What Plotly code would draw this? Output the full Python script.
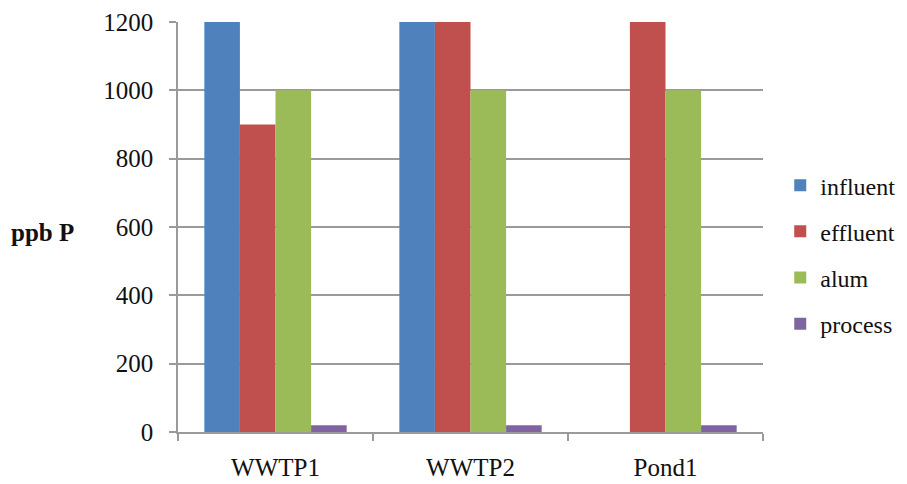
import plotly.graph_objects as go

categories = ["WWTP1", "WWTP2", "Pond1"]
influent = [1200, 1200, None]
effluent = [900, 1200, 1200]
alum = [1000, 1000, 1000]
process = [20, 20, 20]
y_ticks = [0, 200, 400, 600, 800, 1000, 1200]

series = [
    ("influent", influent, "#4F81BD"),
    ("effluent", effluent, "#C0504D"),
    ("alum", alum, "#9BBB59"),
    ("process", process, "#8064A2"),
]

fig = go.Figure()
for name, vals, col in series:
    fig.add_trace(go.Bar(x=categories, y=vals, name=name, marker_color=col,
                         marker_line_width=0, legendgroup=name))

font = "Liberation Serif, Times New Roman, serif"
# the page body adds an 8px offset; compensate so the plot area lands at 178..763 x 22..432
W, H = 899, 476
L, R, T, B = 170, 144, 14, 52
PW = W - L - R
fig.update_layout(
    width=W, height=H,
    margin=dict(l=L, r=R, t=T, b=B),
    paper_bgcolor="white", plot_bgcolor="white",
    barmode="group", bargap=0.27, bargroupgap=0,
    font=dict(family=font, size=25, color="#111111"),
    showlegend=True,
    legend=dict(xref="container", yref="container", x=0.859, xanchor="left",
                y=0.482, yanchor="middle",
                tracegroupgap=12, font=dict(size=24), itemwidth=30,
                bgcolor="rgba(0,0,0,0)"),
    xaxis=dict(type="category", showline=True, linecolor="#9a9a9a", linewidth=1.5,
               ticks="outside", tickson="boundaries", ticklen=7, tickcolor="#9a9a9a",
               tickwidth=1.5, ticklabelstandoff=12, tickfont=dict(size=25),
               automargin=False),
    yaxis=dict(range=[0, 1200], tickvals=y_ticks, showline=True, linecolor="#9a9a9a",
               linewidth=1.5, showgrid=True, gridcolor="#9a9a9a", gridwidth=1.5,
               ticks="outside", ticklen=7, tickcolor="#9a9a9a", tickwidth=1.5,
               ticklabelstandoff=11, tickfont=dict(size=25), zeroline=False,
               automargin=False),
    annotations=[dict(text="<b>ppb P</b>", x=(42 - 8 - L) / PW, y=585,
                      xref="paper", yref="y", xanchor="center", yanchor="middle",
                      showarrow=False, font=dict(size=25))],
)
fig.write_html("out.html")
